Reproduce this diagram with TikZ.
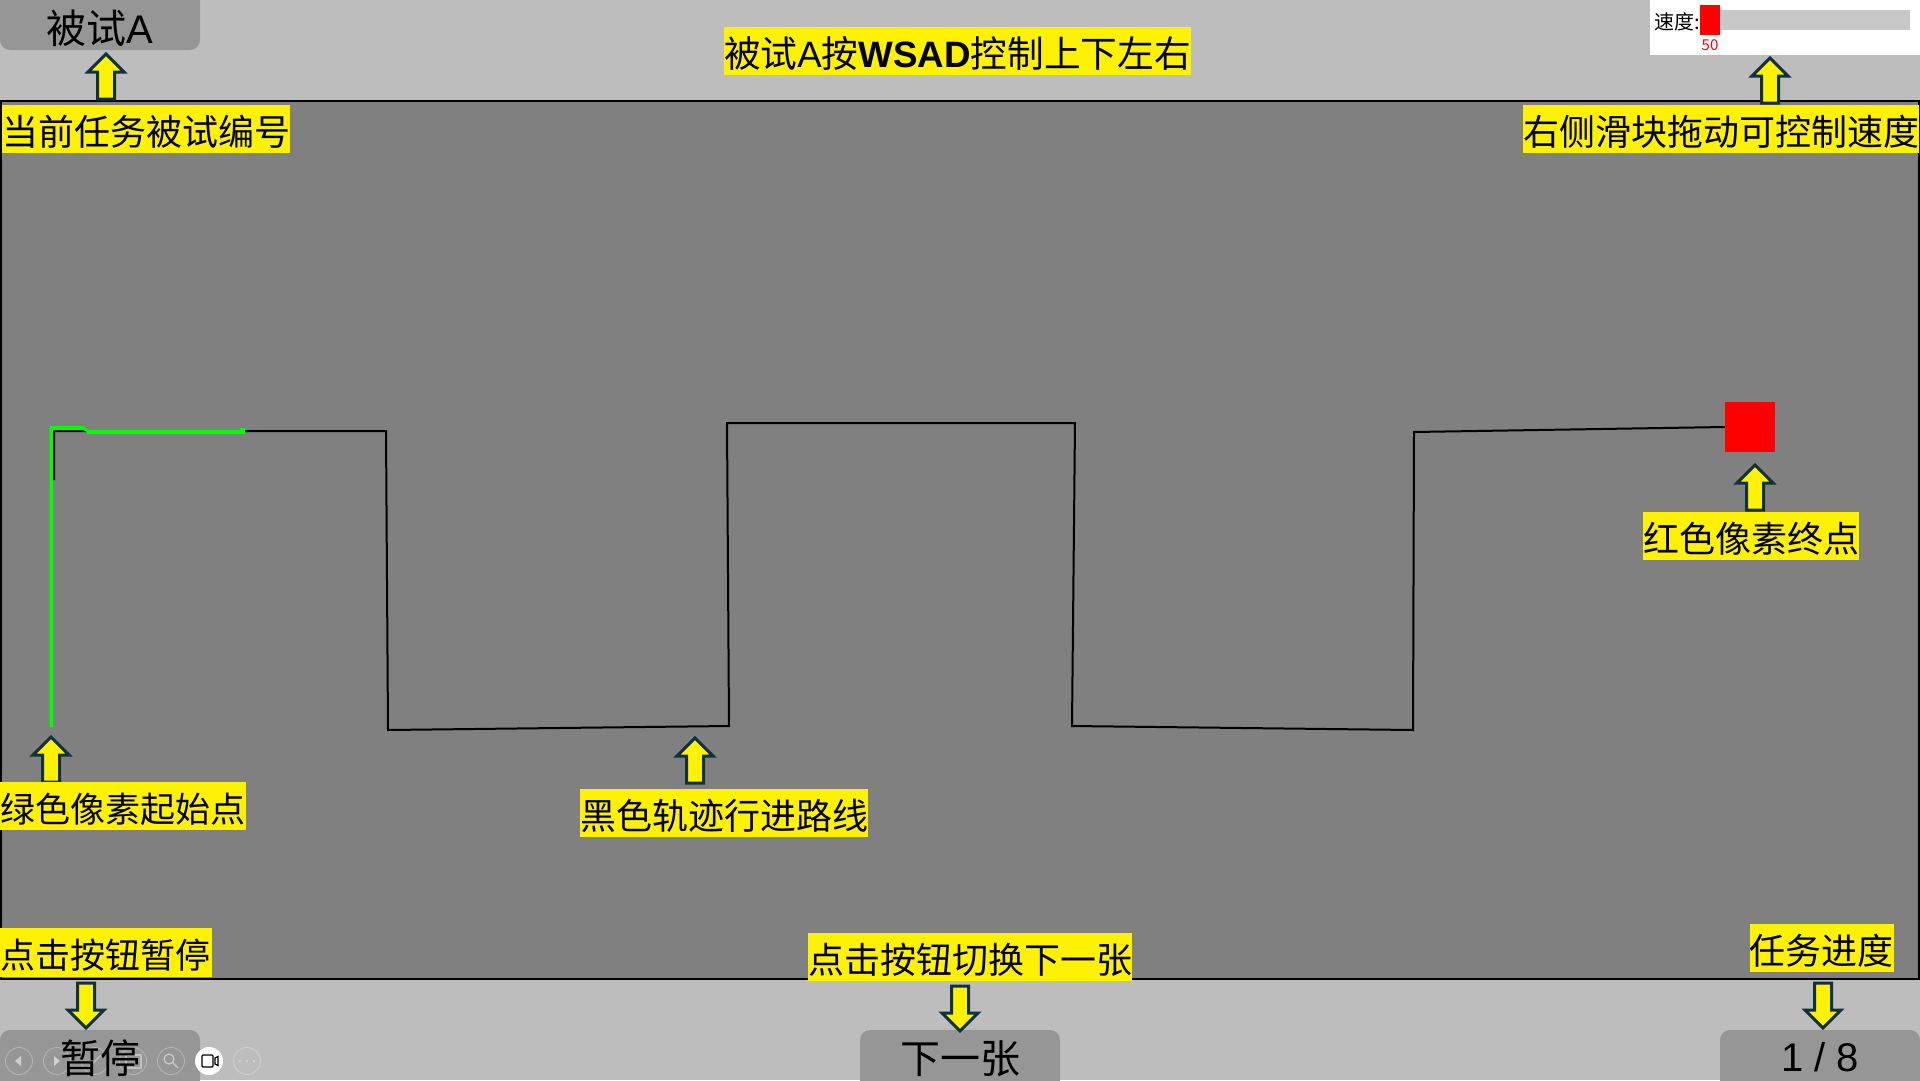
\documentclass[tikz,border=0pt]{standalone}
\usepackage{fontspec}
\setmainfont{Noto Sans CJK SC}
\newfontfamily\latinf{Liberation Sans}
\definecolor{bgc}{HTML}{BDBDBD}
\definecolor{panel}{HTML}{808080}
\definecolor{btn}{HTML}{969696}
\definecolor{bar}{HTML}{C8C8C8}
\definecolor{navy}{HTML}{10303F}
\definecolor{pgreen}{HTML}{00FF00}
\tikzset{
  x=1pt,y=-1pt,
  lbl/.style={fill=yellow,inner sep=0pt,minimum height=48pt,text height=34pt,text depth=1.6pt,text=black,font=\fontsize{36}{40}\selectfont},
  button/.style={fill=btn,rounded corners=10pt,minimum width=200pt,minimum height=60pt,inner sep=0pt,text=black,font=\fontsize{40}{44}\selectfont},
  arrowpath/.style={draw=navy,fill=yellow,line width=3pt,miter limit=10},
  uarrow/.pic={\draw[arrowpath] (0,2) -- (18,20) -- (8.5,20) -- (8.5,47) -- (-8.5,47) -- (-8.5,20) -- (-18,20) -- cycle;},
  darrow/.pic={\draw[arrowpath] (0,-2) -- (18,-20) -- (8.5,-20) -- (8.5,-47) -- (-8.5,-47) -- (-8.5,-20) -- (-18,-20) -- cycle;},
  player/.style={circle,draw=white,draw opacity=.3,line width=.8pt,minimum size=27pt,inner sep=0pt},
}
\begin{document}
\begin{tikzpicture}
\useasboundingbox (0,0) rectangle (1920,1080);
\clip (0,0) rectangle (1920,1080);
\fill[bgc] (0,0) rectangle (1920,1080);
\draw[fill=panel,line width=2pt,draw=black] (1,101) rectangle (1919,979);

% slider panel
\fill[white] (1650,0) rectangle (1920,55);
\fill[bar] (1720,10) rectangle (1910,30);
\fill[red] (1700,5) rectangle (1720,35);
\node[inner sep=0pt,anchor=west,font=\fontsize{20}{22}\selectfont] (speedlbl) at (1654,22) {速度:};
\node[inner sep=0pt,text=red,font=\fontsize{15}{16}\selectfont] (speedval) at (1710,45) {50};

% track
\node[fill=red,minimum size=50pt,inner sep=0pt] (goal) at (1750,427) {};
\coordinate (t0) at (54,480);
\draw[line width=2pt,line join=miter] (t0) -- (54,431) -- (386,431) -- (388,730) -- (729,726) -- (727,423) -- (1075,423) -- (1072,726) -- (1413,730) -- (1414,432) -- (goal.west);
\fill[pgreen] (49.5,727) -- (49.5,426) -- (84,426) -- (88,430) -- (240,430) -- (240,428) -- (245,428) -- (245,434) -- (87,434) -- (87,432) -- (83,430) -- (53,430) -- (53,727) -- cycle;

% buttons
\node[button,text height=48pt,text depth=.6pt] (subj) at (100,20) {被试{\latinf A}};
\node[button] (pause) at (100,1060) {};
\node[button,text height=30pt,text depth=3.6pt] (next) at (960,1060) {下一张};
\node[button,text height=28pt,text depth=4.2pt] (prog) at (1820,1060) {\latinf 1 / 8};

% player overlay
\node[player] (p1) at (19,1061) {};
\node[player] (p2) at (57,1061) {};
\node[player] (p3) at (95,1061) {};
\node[player] (p4) at (133,1061) {};
\node[player] (p5) at (171,1061) {};
\node[player] (p7) at (247,1061) {};
\fill[white,opacity=.55] (15,1061) -- (21,1056) -- (21,1066) -- cycle;
\fill[white,opacity=.55] (60,1061) -- (54,1056) -- (54,1066) -- cycle;
\draw[white,opacity=.4,line width=1.2pt] (89,1067) -- (101,1055);
\draw[white,opacity=.4,line width=1.2pt] (126,1055) rectangle (141,1068);
\draw[white,opacity=.5,line width=1.2pt] (169,1059) circle (5) (173,1063) -- (178,1068);
\fill[white,opacity=.5] (240,1061) circle (1) (247,1061) circle (1) (254,1061) circle (1);
\node[circle,fill=white,minimum size=28pt,inner sep=0pt] (p6) at (209,1061) {};
\draw[black,line width=1.3pt,rounded corners=1pt] (202,1055) rectangle (213,1067);
\draw[black,line width=1.3pt] (215,1058) -- (218,1056.5) -- (218,1065.5) -- (215,1064) -- cycle;
\node[inner sep=0pt,text=black,font=\fontsize{40}{44}\selectfont] (pausetxt) at (100,1058) {暂停};

% arrows
\pic (a1) at (106,52) {uarrow};
\pic (a2) at (1770,56) {uarrow};
\pic (a3) at (1755,463) {uarrow};
\pic (a4) at (51,735) {uarrow};
\pic (a5) at (695,736) {uarrow};
\pic (a6) at (86,1030) {darrow};
\pic (a7) at (960,1033) {darrow};
\pic (a8) at (1823,1030) {darrow};

% labels
\node[lbl,minimum width=288pt] (l1) at (146,129) {当前任务被试编号};
\node[lbl,minimum width=396pt] (l2) at (1721,129) {右侧滑块拖动可控制速度};
\node[lbl,minimum width=465pt,font=\fontsize{36.7}{40}\selectfont] (l3) at (957.5,51) {被试{\latinf A}按{\latinf\bfseries WSAD}控制上下左右};
\node[lbl,minimum width=246pt,font=\fontsize{35}{40}\selectfont] (l4) at (123,806) {绿色像素起始点};
\node[lbl,minimum width=288pt] (l5) at (724,813) {黑色轨迹行进路线};
\node[lbl,minimum width=216pt] (l6) at (1751,536) {红色像素终点};
\node[lbl,minimum width=212pt,minimum height=49pt,font=\fontsize{35}{40}\selectfont] (l7) at (106,952.5) {点击按钮暂停};
\node[lbl,minimum width=324pt] (l8) at (970,957) {点击按钮切换下一张};
\node[lbl,minimum width=143pt] (l9) at (1821.5,948) {任务进度};
\end{tikzpicture}
\end{document}
